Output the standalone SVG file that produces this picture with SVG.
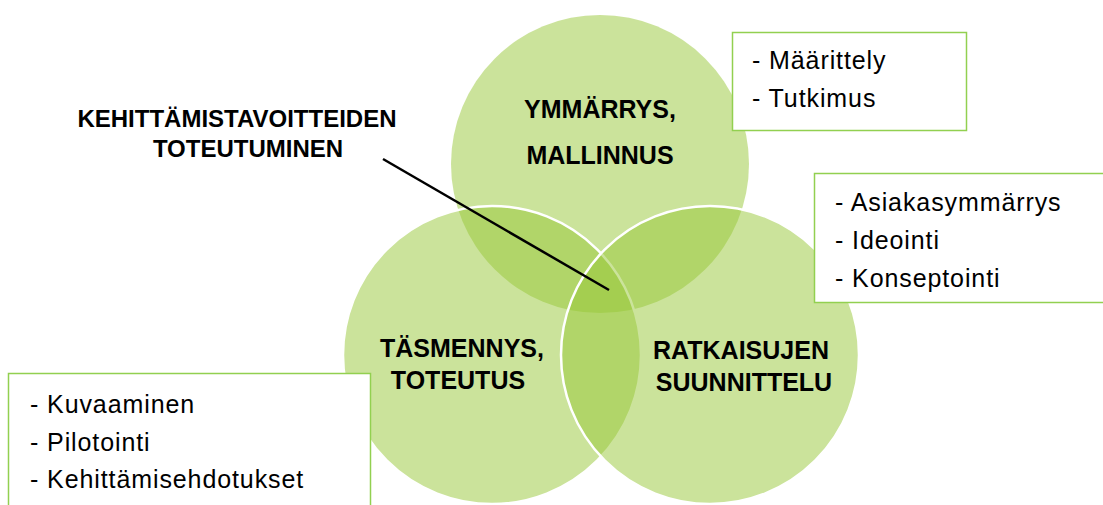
<svg xmlns="http://www.w3.org/2000/svg" width="1103" height="505" viewBox="0 0 1103 505">
  <style>
    .circ { fill: #97c737; fill-opacity: 0.5; }
    .edge { stroke: #ffffff; stroke-width: 2.5; }
    .lbl { font-family: "Liberation Sans", Arial, sans-serif; font-weight: bold; font-size: 25px; fill: #000; text-anchor: middle; }
    .lbl2 { font-family: "Liberation Sans", Arial, sans-serif; font-weight: bold; font-size: 24px; fill: #000; text-anchor: middle; }
    .box { fill: #ffffff; stroke: #92d050; stroke-width: 1.5; }
    .item { font-family: "Liberation Sans", Arial, sans-serif; font-size: 25px; letter-spacing: 0.9px; fill: #000; }
  </style>
  <rect width="1103" height="505" fill="#ffffff"/>

  <g id="circle-top">
    <circle class="circ" cx="600" cy="164" r="149"/>
    <text class="lbl" x="600" y="118">YMMÄRRYS,</text>
    <text class="lbl" x="600" y="164">MALLINNUS</text>
  </g>
  <g id="circle-left">
    <circle class="circ edge" cx="492" cy="355" r="149"/>
  </g>
  <g id="circle-right">
    <circle class="circ edge" cx="710" cy="355" r="149"/>
  </g>
  <g id="label-left">
    <text class="lbl" x="462" y="357">TÄSMENNYS,</text>
    <text class="lbl" x="458" y="389">TOTEUTUS</text>
  </g>
  <g id="label-right">
    <text class="lbl" x="741" y="359">RATKAISUJEN</text>
    <text class="lbl" x="744" y="391">SUUNNITTELU</text>
  </g>

  <g id="label-center">
    <text class="lbl2" x="237" y="127">KEHITTÄMISTAVOITTEIDEN</text>
    <text class="lbl2" x="248" y="157">TOTEUTUMINEN</text>
  </g>

  <g id="connectors">
    <line x1="383" y1="159" x2="609" y2="290" stroke="#000000" stroke-width="2.5"/>
  </g>

  <g id="box-top">
    <rect class="box" x="732.5" y="32.5" width="234" height="98"/>
    <text class="item" x="752" y="69">- Määrittely</text>
    <text class="item" x="752" y="107">- Tutkimus</text>
  </g>
  <g id="box-right">
    <rect class="box" x="814.5" y="173.5" width="300" height="129"/>
    <text class="item" x="835" y="211">- Asiakasymmärrys</text>
    <text class="item" x="835" y="249">- Ideointi</text>
    <text class="item" x="835" y="287">- Konseptointi</text>
  </g>
  <g id="box-left">
    <rect class="box" x="8.5" y="373.5" width="362" height="140"/>
    <text class="item" x="30" y="413">- Kuvaaminen</text>
    <text class="item" x="30" y="451">- Pilotointi</text>
    <text class="item" x="30" y="488">- Kehittämisehdotukset</text>
  </g>
</svg>
